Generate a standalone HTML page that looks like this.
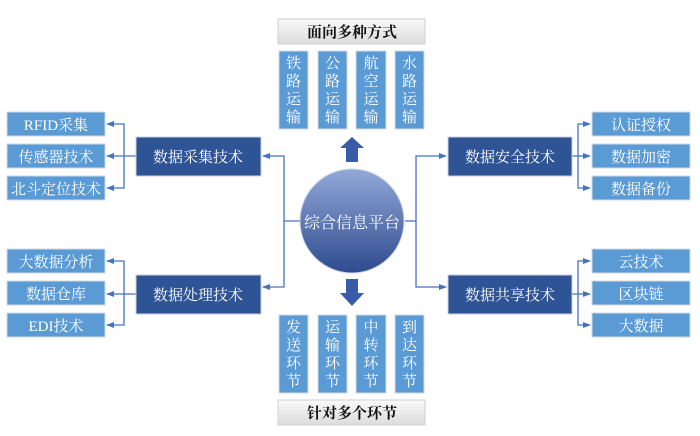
<!DOCTYPE html>
<html><head><meta charset="utf-8"><style>
body{margin:0;background:#fff}
svg text{font-family:"Liberation Serif","Noto Serif CJK SC","Noto Sans CJK SC",serif}
</style></head><body>
<svg width="700" height="431" viewBox="0 0 700 431" xmlns="http://www.w3.org/2000/svg">
<defs>
<linearGradient id="c" x1="0" y1="0" x2="0" y2="1"><stop offset="0" stop-color="#92a9d8"/><stop offset="1" stop-color="#2e4b8e"/></linearGradient>
<linearGradient id="g" x1="0" y1="0" x2="0" y2="1"><stop offset="0" stop-color="#fafafa"/><stop offset="1" stop-color="#dcdcdc"/></linearGradient>
<marker id="a" markerWidth="8" markerHeight="8" refX="7" refY="4" orient="auto" markerUnits="userSpaceOnUse"><path d="M0,1 L8,4 L0,7 Z" fill="#4472c4"/></marker>
</defs>
<g fill="none" stroke="#4472c4" stroke-width="1.3">
<path d="M300,221 H284 V156 H263" marker-end="url(#a)"/>
<path d="M284,221 V287 H263" marker-end="url(#a)"/>
<path d="M405,221 H416 V156 H446" marker-end="url(#a)"/>
<path d="M416,221 V287 H446" marker-end="url(#a)"/>
<path d="M136,156 H124 V124 H107" marker-end="url(#a)"/>
<path d="M124,156 H107" marker-end="url(#a)"/>
<path d="M124,156 V188 H107" marker-end="url(#a)"/>
<path d="M136,294 H124 V261 H107" marker-end="url(#a)"/>
<path d="M124,294 H107" marker-end="url(#a)"/>
<path d="M124,294 V325 H107" marker-end="url(#a)"/>
<path d="M572,156 H578 V124 H590" marker-end="url(#a)"/>
<path d="M578,156 H590" marker-end="url(#a)"/>
<path d="M578,156 V188 H590" marker-end="url(#a)"/>
<path d="M572,294 H578 V261 H590" marker-end="url(#a)"/>
<path d="M578,294 H590" marker-end="url(#a)"/>
<path d="M578,294 V325 H590" marker-end="url(#a)"/>
</g>
<circle cx="352" cy="221" r="52" fill="url(#c)" stroke="#c9d3e8" stroke-width="1"/>
<text x="352" y="228" font-size="16" fill="#fff" text-anchor="middle">综合信息平台</text>
<path d="M346,162 V148 H340 L352,137 L364,148 H358 V162 Z" fill="#3a5ca8"/>
<path d="M346,279 V293 H340 L352,306 L364,293 H358 V279 Z" fill="#3a5ca8"/>
<g stroke="#cfcfcf" stroke-width="1">
<rect x="278" y="19" width="147" height="25" fill="url(#g)"/>
<rect x="278" y="400" width="147" height="25" fill="url(#g)"/>
</g>
<text x="352" y="37" font-size="15" font-weight="bold" text-anchor="middle" fill="#111">面向多种方式</text>
<text x="352" y="418" font-size="15" font-weight="bold" text-anchor="middle" fill="#111">针对多个环节</text>
<g fill="#5b9bd5" stroke="#d0d8e4" stroke-width="1">
<rect x="279" y="51" width="29" height="78"/><rect x="318" y="51" width="29" height="78"/><rect x="356" y="51" width="30" height="78"/><rect x="395" y="51" width="29" height="78"/>
<rect x="279" y="315" width="29" height="78"/><rect x="318" y="315" width="29" height="78"/><rect x="356" y="315" width="30" height="78"/><rect x="395" y="315" width="29" height="78"/>
<rect x="7" y="112" width="98" height="24"/><rect x="7" y="144" width="98" height="24"/><rect x="7" y="176" width="98" height="24"/>
<rect x="7" y="249" width="98" height="24"/><rect x="7" y="281" width="98" height="24"/><rect x="7" y="313" width="98" height="24"/>
<rect x="592" y="112" width="98" height="24"/><rect x="592" y="144" width="98" height="24"/><rect x="592" y="176" width="98" height="24"/>
<rect x="592" y="249" width="98" height="24"/><rect x="592" y="281" width="98" height="24"/><rect x="592" y="313" width="98" height="24"/>
</g>
<g fill="#2f5496" stroke="#c8d0de" stroke-width="1">
<rect x="136" y="137" width="125" height="39"/><rect x="136" y="275" width="125" height="39"/>
<rect x="448" y="137" width="124" height="39"/><rect x="448" y="275" width="124" height="39"/>
</g>
<g fill="#fff" font-size="15" text-anchor="middle">
<text x="198" y="162">数据采集技术</text><text x="198" y="300">数据处理技术</text>
<text x="510" y="162">数据安全技术</text><text x="510" y="300">数据共享技术</text>
<text x="56" y="130">RFID采集</text><text x="56" y="162">传感器技术</text><text x="56" y="194">北斗定位技术</text>
<text x="56" y="267">大数据分析</text><text x="56" y="299">数据仓库</text><text x="56" y="331">EDI技术</text>
<text x="641" y="130">认证授权</text><text x="641" y="162">数据加密</text><text x="641" y="194">数据备份</text>
<text x="641" y="267">云技术</text><text x="641" y="299">区块链</text><text x="641" y="331">大数据</text>
</g>
<g fill="#fff" font-size="15" text-anchor="middle">
<text x="293.5" y="68">铁</text><text x="293.5" y="86">路</text><text x="293.5" y="104">运</text><text x="293.5" y="122">输</text>
<text x="332.5" y="68">公</text><text x="332.5" y="86">路</text><text x="332.5" y="104">运</text><text x="332.5" y="122">输</text>
<text x="371" y="68">航</text><text x="371" y="86">空</text><text x="371" y="104">运</text><text x="371" y="122">输</text>
<text x="409.5" y="68">水</text><text x="409.5" y="86">路</text><text x="409.5" y="104">运</text><text x="409.5" y="122">输</text>
<text x="293.5" y="332">发</text><text x="293.5" y="350">送</text><text x="293.5" y="368">环</text><text x="293.5" y="386">节</text>
<text x="332.5" y="332">运</text><text x="332.5" y="350">输</text><text x="332.5" y="368">环</text><text x="332.5" y="386">节</text>
<text x="371" y="332">中</text><text x="371" y="350">转</text><text x="371" y="368">环</text><text x="371" y="386">节</text>
<text x="409.5" y="332">到</text><text x="409.5" y="350">达</text><text x="409.5" y="368">环</text><text x="409.5" y="386">节</text>
</g>
</svg>
</body></html>
